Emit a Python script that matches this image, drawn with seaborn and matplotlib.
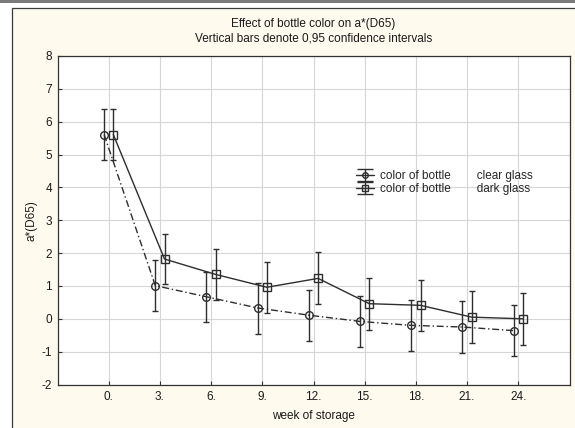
import matplotlib
matplotlib.use("Agg")
import matplotlib.pyplot as plt
from matplotlib.patches import Rectangle
import seaborn as sns
import pandas as pd
import numpy as np

# weeks of storage
weeks = [0, 3, 6, 9, 12, 15, 18, 21, 24]

# clear glass: mean and 0.95 CI bounds
clear_mean = [5.61, 1.01, 0.67, 0.33, 0.11, -0.08, -0.20, -0.25, -0.36]
clear_lo = [4.83, 0.23, -0.10, -0.45, -0.67, -0.87, -0.97, -1.03, -1.14]
clear_hi = [6.40, 1.79, 1.41, 1.09, 0.88, 0.69, 0.56, 0.53, 0.43]

# dark glass: mean and 0.95 CI bounds
dark_mean = [5.61, 1.82, 1.35, 0.96, 1.23, 0.46, 0.41, 0.05, 0.00]
dark_lo = [4.83, 1.05, 0.58, 0.18, 0.46, -0.33, -0.36, -0.73, -0.79]
dark_hi = [6.40, 2.58, 2.13, 1.73, 2.03, 1.23, 1.17, 0.84, 0.79]

x_labels = ["0.", "3.", "6.", "9.", "12.", "15.", "18.", "21.", "24."]
y_ticks = list(range(-2, 9))

DODGE = 0.27
INK = "#2e2e2e"
CREAM = "#fefaee"
FS = 8.5

sns.set_style("white")
plt.rcParams["font.family"] = ["Liberation Sans", "DejaVu Sans"]
plt.rcParams["axes.unicode_minus"] = False

fig = plt.figure(figsize=(5.75, 4.28), dpi=100)
fig.patch.set_facecolor("white")

# panel frame
fig.add_artist(Rectangle((11.5 / 575, -0.01), 1.0, (428 - 8.5) / 428 + 0.01,
                         transform=fig.transFigure, facecolor=CREAM,
                         edgecolor="#3a3a3a", linewidth=0.9, zorder=-10))
fig.add_artist(Rectangle((0, (428 - 2.5) / 428), 1.0, 2.5 / 428,
                         transform=fig.transFigure, facecolor="#7a7a7a",
                         edgecolor="none", zorder=-9))

ax = fig.add_axes([57.5 / 575, (428 - 384.5) / 428, 512 / 575, 328.5 / 428])
ax.set_facecolor("white")

df = pd.DataFrame({
    "week": np.concatenate([np.array(weeks) - DODGE, np.array(weeks) + DODGE]),
    "value": clear_mean + dark_mean,
    "bottle": ["clear glass"] * len(weeks) + ["dark glass"] * len(weeks),
})

sns.lineplot(data=df[df.bottle == "clear glass"], x="week", y="value", ax=ax,
             color=INK, linewidth=1.0, linestyle=(0, (5, 2, 1, 2)),
             marker="o", markersize=5.5, markerfacecolor="none",
             markeredgecolor=INK, markeredgewidth=1.0, legend=False)
sns.lineplot(data=df[df.bottle == "dark glass"], x="week", y="value", ax=ax,
             color=INK, linewidth=1.0, linestyle="-",
             marker="s", markersize=5.5, markerfacecolor="none",
             markeredgecolor=INK, markeredgewidth=1.0, legend=False)

cm = np.array(clear_mean)
dm = np.array(dark_mean)
ax.errorbar(np.array(weeks) - DODGE, cm,
            yerr=[cm - np.array(clear_lo), np.array(clear_hi) - cm],
            fmt="none", ecolor=INK, elinewidth=1.0, capsize=2.4, capthick=1.0)
ax.errorbar(np.array(weeks) + DODGE, dm,
            yerr=[dm - np.array(dark_lo), np.array(dark_hi) - dm],
            fmt="none", ecolor=INK, elinewidth=1.0, capsize=2.4, capthick=1.0)

# legend handles
h1 = ax.errorbar([np.nan], [np.nan], yerr=[1], fmt="-", marker="o",
                 color=INK, markerfacecolor="none", markersize=4,
                 elinewidth=1.0, capsize=6, linewidth=1.0)
h2 = ax.errorbar([np.nan], [np.nan], yerr=[1], fmt="-", marker="s",
                 color=INK, markerfacecolor="none", markersize=4,
                 elinewidth=1.0, capsize=6, linewidth=1.0)
gap = " " * 8
ax.legend([h1, h2], ["color of bottle" + gap + "clear glass",
                     "color of bottle" + gap + "dark glass"],
          loc="upper left", bbox_to_anchor=(0.583, 0.652), frameon=False,
          fontsize=FS, handlelength=1.5, handletextpad=0.5,
          labelspacing=0.1, borderaxespad=0, borderpad=0)

ax.set_xlim(-3, 27)
ax.set_ylim(-2, 8)
ax.set_xticks(weeks)
ax.set_xticklabels(x_labels)
ax.set_yticks(y_ticks)
ax.grid(True, color="#d6d6d6", linewidth=0.8)
ax.set_axisbelow(True)
ax.tick_params(axis="both", direction="in", length=3, width=0.8,
               color="#333333", labelsize=FS, labelcolor="#1a1a1a", pad=4)
ax.tick_params(axis="x", bottom=True, pad=5)
ax.tick_params(axis="y", left=True)
for s in ax.spines.values():
    s.set_color("#333333")
    s.set_linewidth(0.9)

ax.set_xlabel("week of storage", fontsize=FS, color="#1a1a1a", labelpad=5)
ax.set_ylabel("a*(D65)", fontsize=FS, color="#1a1a1a", labelpad=3)
ax.set_title("Effect of bottle color on a*(D65)\n"
             "Vertical bars denote 0,95 confidence intervals",
             fontsize=FS, color="#1a1a1a", pad=10.5, linespacing=1.3)

fig.savefig("out.png", dpi=100, facecolor=fig.get_facecolor())
